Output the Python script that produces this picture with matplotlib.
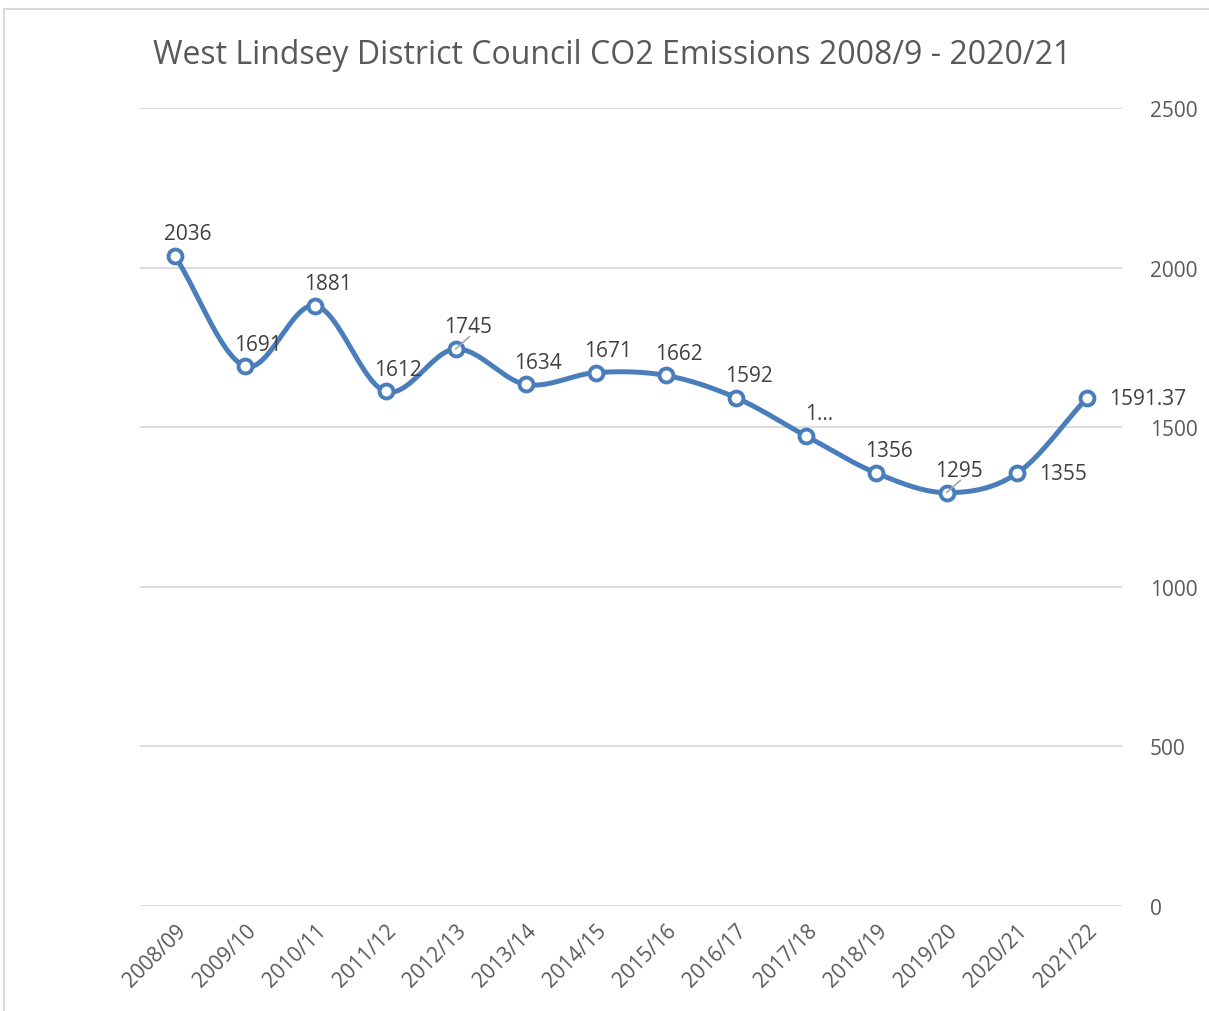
import numpy as np
import matplotlib.pyplot as plt
from matplotlib.patches import Rectangle

# data
years = ["2008/09", "2009/10", "2010/11", "2011/12", "2012/13", "2013/14", "2014/15",
         "2015/16", "2016/17", "2017/18", "2018/19", "2019/20", "2020/21", "2021/22"]
emissions = [2036, 1691, 1881, 1612, 1745, 1634, 1671, 1662, 1592, 1472, 1356, 1295, 1355, 1591.37]
point_labels = ["2036", "1691", "1881", "1612", "1745", "1634", "1671", "1662", "1592", "1...",
                "1356", "1295", "1355", "1591.37"]
y_ticks = [0, 500, 1000, 1500, 2000, 2500]

blue = "#4a7ebb"
grey_text = "#595959"


def smooth_curve(x, y, steps=30):
    # Catmull-Rom spline, roughly what Excel does for "smoothed line"
    x = np.asarray(x, float)
    y = np.asarray(y, float)
    px = np.concatenate([[2 * x[0] - x[1]], x, [2 * x[-1] - x[-2]]])
    py = np.concatenate([[2 * y[0] - y[1]], y, [2 * y[-1] - y[-2]]])
    xs, ys = [], []
    t = np.linspace(0, 1, steps)
    for i in range(1, len(px) - 2):
        for p, out in ((px, xs), (py, ys)):
            p0, p1, p2, p3 = p[i - 1], p[i], p[i + 1], p[i + 2]
            out.extend(0.5 * (2 * p1 + (-p0 + p2) * t + (2 * p0 - 5 * p1 + 4 * p2 - p3) * t ** 2
                              + (-p0 + 3 * p1 - 3 * p2 + p3) * t ** 3))
    return np.array(xs), np.array(ys)


plt.rcParams['font.family'] = ['Open Sans', 'DejaVu Sans']

fig = plt.figure(figsize=(12.09, 10.12), dpi=100)
ax = fig.add_axes([140 / 1209, 1 - 907 / 1012, (1122 - 140) / 1209, (907 - 109) / 1012])

# chart border
fig.patches.append(Rectangle((4 / 1209, -0.1), 1.2, 1 - 10 / 1012 + 0.1, transform=fig.transFigure,
                             fill=False, edgecolor="#d9d9d9", linewidth=1.5))

xpos = np.arange(len(years))
sx, sy = smooth_curve(xpos, emissions)
ax.plot(sx, sy, color=blue, linewidth=3.6, solid_capstyle="round", zorder=3)
ax.plot(xpos, emissions, linestyle="none", marker="o", markersize=10,
        markerfacecolor="white", markeredgecolor=blue, markeredgewidth=2.8, zorder=4)

ax.set_xlim(-0.5, len(years) - 0.5)
ax.set_ylim(0, 2500)
ax.set_yticks(y_ticks)
ax.yaxis.tick_right()
ax.grid(axis="y", color="#d9d9d9", linewidth=1.3)
ax.set_axisbelow(True)
for s in ax.spines.values():
    s.set_visible(False)
ax.tick_params(axis="y", length=0, pad=20, labelsize=15, labelcolor=grey_text)
ax.tick_params(axis="x", length=0, pad=10, labelsize=15, labelcolor=grey_text)
ax.set_xticks(xpos)
ax.set_xticklabels(years, rotation=45, ha="right", rotation_mode="anchor")

# data labels
for i, (v, lab) in enumerate(zip(emissions, point_labels)):
    if i >= 12:
        ax.annotate(lab, (i, v), xytext=(16, 0), textcoords="offset points",
                    ha="left", va="center", fontsize=15, color="#404040")
    else:
        ax.annotate(lab, (i, v), xytext=(9, 16), textcoords="offset points",
                    ha="center", va="center", fontsize=15, color="#404040")
    if i in (4, 11):
        # leader lines for the labels Excel moved
        ax.annotate("", (i, v), xytext=(10, 9), textcoords="offset points", zorder=5,
                    arrowprops=dict(arrowstyle="-", color="#a6a6a6", lw=1.2,
                                    shrinkA=0, shrinkB=0))

fig.text(612 / 1209, 1 - 55 / 1012, "West Lindsey District Council CO2 Emissions 2008/9 - 2020/21",
         ha="center", va="center", fontsize=23, color=grey_text)

fig.savefig("out.png", dpi=100)
